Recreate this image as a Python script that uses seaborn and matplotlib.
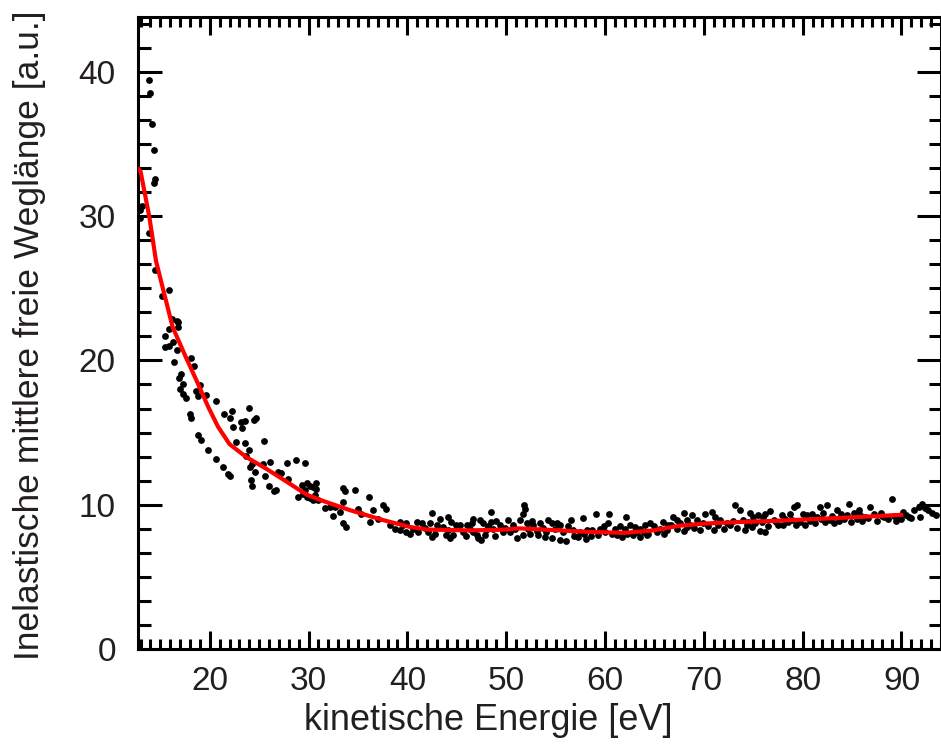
import matplotlib
matplotlib.use("Agg")
import matplotlib.pyplot as plt
import numpy as np
import pandas as pd
import seaborn as sns
from matplotlib.ticker import MultipleLocator, AutoMinorLocator

# Measured inelastic mean free path vs. kinetic energy
energy_low = [12.98, 12.98, 13.11, 13.82, 13.95, 14.15, 14.4, 14.46, 14.33, 13.82, 14.5, 15.92, 15.17,
              16.18, 16.69, 16.76, 15.92, 16.32, 15.5, 15.5, 15.92, 16.69, 18.1, 16.8, 16.35, 18.38,
              17.13, 16.89, 17.3, 18.99, 17.03, 18.65, 17.3, 17.64, 18.82, 19.66, 20.68, 18.04, 18.15,
              21.42, 22.3, 22.1, 23.95, 24.73, 24.46, 23.55, 23.2, 22.4, 23.3, 18.8, 19.16, 22.7, 23.6,
              25.47, 19.83, 23.98, 23.7, 20.6, 24.3, 24.05, 25.4, 26.1, 27.77, 28.7, 29.62, 21.3, 24.56,
              25.6, 26.9, 27.2, 21.86, 22.0, 27.9, 24.2, 24.3, 26.0, 26.55, 26.7, 29.3, 29.86, 30.8,
              30.47, 29.62, 28.95, 30.64, 30.1, 30.13, 30.8, 29.45, 29.8, 30.47, 30.97, 33.5, 33.67,
              34.7, 31.7, 32.5, 32.2, 33.5, 33.44, 33.8, 32.7, 33.2, 36.1, 35.0, 35.35, 36.5, 37.5,
              37.85, 36.2, 37.05, 38.25, 38.76, 39.25, 39.6, 39.9, 39.25, 39.86]
imfp_low = [30.4, 29.9, 30.7, 39.4, 38.5, 36.4, 34.6, 32.6, 32.3, 28.8, 26.3, 24.9, 24.45,
            22.9, 22.7, 22.3, 22.2, 21.3, 21.7, 20.9, 21.0, 20.7, 20.2, 22.65, 19.9, 19.6,
            19.03, 18.8, 18.4, 18.3, 18.0, 17.9, 17.7, 17.4, 17.5, 17.6, 17.2, 16.3, 16.0,
            16.3, 16.5, 16.0, 16.7, 16.0, 15.85, 15.8, 15.7, 15.4, 15.3, 14.8, 14.5, 14.35, 14.3,
            14.4, 13.8, 13.8, 13.4, 13.2, 12.85, 12.6, 12.85, 12.96, 12.9, 13.1, 12.9, 12.6, 12.3,
            12.0, 12.3, 12.2, 12.15, 12.0, 11.8, 11.7, 11.3, 11.3, 10.95, 11.05, 11.4, 11.5, 11.47,
            11.23, 11.0, 10.5, 10.66, 10.47, 11.28, 11.1, 10.77, 10.54, 10.36, 10.3, 11.19, 10.95,
            11.05, 9.74, 9.2, 9.85, 10.2, 8.7, 8.46, 9.85, 9.5, 10.5, 9.67, 9.39, 9.62, 9.97,
            9.67, 8.81, 8.98, 8.58, 8.35, 8.81, 8.58, 8.74, 8.24, 8.12]

energy_mid = [40.26, 40.93, 41.45, 40.6, 41.1, 42.46, 42.3, 42.1, 42.46, 43.3, 43.6, 44.1, 44.46, 44.97,
              44.14, 44.65, 44.3, 45.3, 46.0, 46.5, 46.67, 47.35, 47.7, 46.67, 47.0, 47.5, 47.18, 48.43,
              48.5, 48.7, 49.38, 50.2, 50.7, 49.7, 48.0, 47.86, 51.8, 51.9, 51.74, 51.4, 52.08, 52.75,
              53.4, 54.27, 54.6, 55.1, 55.4, 51.74, 52.4, 53.26, 53.9, 54.6, 55.4, 56.1, 56.6, 57.8,
              59.1, 60.4, 62.1, 57.3, 58.1, 56.8, 57.5, 58.2, 58.7, 59.5, 60.0, 60.35, 60.7, 61.2,
              61.7, 62.2, 62.5, 63.0, 63.5, 64.0, 64.6, 62.8, 63.5, 64.4, 65.25, 65.9, 66.4, 66.9,
              67.3, 67.95, 68.3, 68.8, 69.3, 70.1, 70.8, 71.1, 71.65, 72.3, 73.15, 66.3, 67.3, 68.3,
              69.6, 71.0]
imfp_mid = [8.0, 8.81, 8.7, 8.35, 8.12, 9.44, 8.7, 8.12, 7.77, 9.04, 8.46, 9.16, 8.81, 8.58,
            8.24, 7.9, 7.66, 8.58, 8.58, 8.7, 8.98, 8.93, 8.7, 8.12, 7.9, 7.54, 7.66, 9.5,
            8.81, 8.35, 8.58, 8.93, 8.58, 8.12, 8.24, 7.9, 9.97, 9.67, 9.39, 8.93, 8.7, 8.58,
            8.7, 8.93, 8.7, 8.74, 8.58, 7.9, 8.0, 7.9, 7.77, 7.66, 7.54, 7.5, 8.93, 9.11,
            9.34, 9.34, 9.16, 7.77, 7.59, 8.24, 8.12, 8.28, 8.24, 8.35, 8.12, 8.7, 8.0, 7.9,
            7.77, 8.0, 8.58, 8.46, 8.35, 8.58, 8.7, 7.9, 7.77, 8.0, 8.12, 8.81, 8.58, 9.16,
            8.93, 9.44, 8.93, 9.27, 8.93, 9.39, 9.5, 9.16, 8.93, 8.7, 9.97, 8.24, 8.35, 8.46,
            8.24, 8.24]

energy_high = [73.7, 74.0, 74.35, 74.7, 75.0, 75.5, 76.0, 76.2, 74.2, 74.9, 75.7, 76.2, 76.7, 77.05,
               77.55, 77.9, 78.25, 78.75, 79.1, 79.4, 79.3, 78.9, 80.0, 80.4, 80.9, 81.45, 81.75,
               82.5, 82.1, 82.8, 83.15, 83.5, 83.85, 84.5, 84.7, 85.2, 85.7, 85.85, 86.35, 86.85,
               87.2, 87.9, 88.2, 89.05, 89.2, 89.7, 90.2, 90.75, 91.25, 91.75, 92.1, 91.9, 92.4, 93.1]
imfp_high = [9.62, 8.93, 8.58, 9.44, 9.16, 9.27, 9.16, 9.39, 8.24, 8.46, 8.2, 8.12, 9.57, 8.93,
             8.58, 9.27, 9.04, 9.39, 9.85, 9.97, 8.58, 8.93, 9.39, 9.27, 9.39, 9.16, 9.85,
             9.97, 9.44, 8.93, 8.7, 9.62, 9.39, 9.27, 10.08, 9.44, 9.62, 9.27, 9.16, 9.85,
             9.39, 9.44, 9.16, 10.43, 9.2, 9.16, 9.5, 9.16, 9.62, 9.85, 10.08, 9.16, 9.74, 9.44]

energy_band = [41.8, 42.8, 43.0, 43.9, 45.6, 45.9, 46.3, 48.2, 48.9, 49.0, 49.9, 50.4, 50.9, 51.1,
               52.2, 52.6, 53.1, 53.7, 54.0, 54.9, 55.7, 56.3, 56.9, 57.9, 58.6, 59.3, 59.9, 61.0,
               61.5, 62.0, 63.2, 63.9, 64.2, 65.0, 65.6, 66.0, 66.7, 67.6, 68.0, 68.6, 69.0, 69.9,
               70.4, 71.4, 72.0, 72.6, 73.0, 73.4, 74.5, 75.2, 75.9, 76.5, 77.3, 78.0, 78.5, 79.7,
               80.2, 80.7, 81.2, 81.9, 82.3, 83.0, 83.7, 84.2, 84.9, 85.5, 86.0, 86.6, 87.5, 88.0,
               88.6, 89.4, 90.0, 90.5, 91.0, 92.7, 93.5]
imfp_band = [8.4, 8.0, 8.6, 7.9, 8.1, 7.8, 8.3, 8.5, 7.8, 8.9, 8.4, 8.1, 8.3, 7.7,
             8.3, 8.9, 8.2, 8.4, 8.1, 8.3, 8.1, 8.5, 7.8, 8.0, 7.8, 7.9, 8.5, 8.3,
             8.5, 8.3, 8.1, 8.1, 7.9, 8.5, 8.3, 8.0, 8.6, 8.7, 8.2, 8.6, 8.4, 8.7,
             8.5, 8.6, 8.3, 8.6, 8.9, 8.4, 8.8, 8.7, 8.8, 8.5, 8.8, 8.6, 8.8, 8.8,
             8.6, 8.9, 8.7, 9.0, 8.8, 9.2, 8.9, 9.0, 8.8, 9.0, 8.9, 9.1, 8.9, 9.2,
             9.0, 8.9, 9.0, 9.3, 9.1, 9.6, 9.3]

# Smoothed curve through the data
fit_energy = [12.74, 13.0, 13.9, 14.56, 15.4, 16.25, 17.6, 18.8, 19.83, 20.84, 22.0, 23.7, 25.7,
              27.77, 29.8, 31.3, 34.2, 37.56, 40.26, 41.95, 46.0, 49.38, 51.4, 54.8, 58.2, 61.9,
              64.9, 67.6, 70.3, 73.6, 77.1, 80.4, 83.85, 87.2, 90.0]
fit_imfp = [33.3, 33.1, 29.9, 26.9, 24.6, 22.3, 20.2, 18.4, 16.8, 15.4, 14.2, 13.3, 12.5,
            11.6, 10.7, 10.3, 9.62, 8.93, 8.46, 8.28, 8.22, 8.26, 8.36, 8.24, 8.12, 8.05,
            8.22, 8.55, 8.7, 8.8, 8.88, 8.98, 9.09, 9.2, 9.3]

points = pd.DataFrame({
    "energy": energy_low + energy_mid + energy_high + energy_band,
    "imfp": imfp_low + imfp_mid + imfp_high + imfp_band,
})
curve = pd.DataFrame({"energy": fit_energy, "imfp": fit_imfp})

sns.set_theme(style="white")
plt.rcParams["font.family"] = ["Liberation Sans", "DejaVu Sans"]
text_color = "#231f20"

fig = plt.figure(figsize=(9.41, 7.44), dpi=100)
ax = fig.add_axes([138 / 941, 95 / 744, 803 / 941, 632 / 744])

sns.scatterplot(data=points, x="energy", y="imfp", ax=ax, color="black", s=24,
                linewidth=0, zorder=2, legend=False)
sns.lineplot(data=curve, x="energy", y="imfp", ax=ax, color="#ff0000", linewidth=3.0,
             zorder=3, sort=True, estimator=None)

ax.set_xlim(12.74, 94.0)
ax.set_ylim(0, 43.8)

ax.xaxis.set_major_locator(MultipleLocator(10))
ax.xaxis.set_minor_locator(MultipleLocator(1))
ax.yaxis.set_major_locator(MultipleLocator(10))
ax.yaxis.set_minor_locator(AutoMinorLocator(6))

for side in ["left", "right", "top", "bottom"]:
    ax.spines[side].set_visible(True)
    ax.spines[side].set_color("black")
    ax.spines[side].set_linewidth(2.2)

ax.tick_params(axis="x", which="both", direction="in", top=True, bottom=True,
               width=2.2, color="black", labelsize=24, labelcolor=text_color, pad=12)
ax.tick_params(axis="x", which="major", length=13)
ax.tick_params(axis="x", which="minor", length=7)
ax.tick_params(axis="y", which="both", direction="in", left=True, right=True,
               width=2.2, color="black", labelsize=24, labelcolor=text_color, pad=16)
ax.tick_params(axis="y", which="major", length=17)
ax.tick_params(axis="y", which="minor", length=9)

ax.set_xlabel("kinetische Energie [eV]", fontsize=26, color=text_color)
ax.set_ylabel("Inelastische mittlere freie Weglänge [a.u.]", fontsize=25.5, color=text_color)
ax.xaxis.set_label_coords(0.436, -0.085)
ax.yaxis.set_label_coords(-0.114, 0.497)

fig.savefig("out.png", dpi=100, facecolor="white")
